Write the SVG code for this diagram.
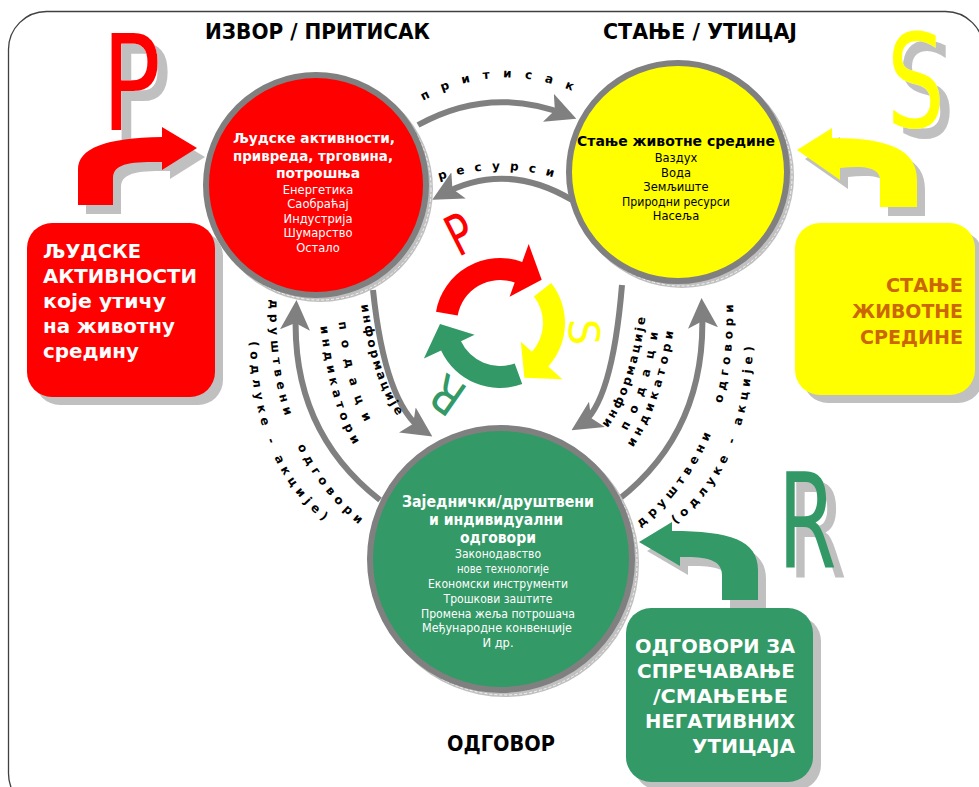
<svg xmlns="http://www.w3.org/2000/svg" width="979" height="787" viewBox="0 0 979 787">
<style>
text{font-family:'DejaVu Sans',Verdana,sans-serif}
.ttl{font-size:21px;font-weight:bold;fill:#000;text-anchor:middle}
.bx{font-size:20px;font-weight:bold}
.cb{font-size:13.5px;font-weight:bold;text-anchor:middle}
.cn{font-size:11.5px;text-anchor:middle}
.lbl{font-size:12px;font-weight:bold;fill:#000}
.conn{fill:none;stroke:#808080;stroke-width:6;marker-end:url(#ah)}
.sh{fill:#c0c0c0}
.dash{fill:none;stroke:#fff;stroke-width:0.8;stroke-dasharray:3 2}
.ring{stroke:#808080;stroke-width:6}
.red{fill:#ff0000}
.yel{fill:#ffff00}
.grn{fill:#339966}
.wt{fill:#fff}
.bigl{filter:url(#ds)}
</style>
<defs>
<filter id="ds" x="-30%" y="-20%" width="160%" height="140%">
<feOffset in="SourceAlpha" dx="10" dy="10" result="o"/>
<feFlood flood-color="#c0c0c0"/>
<feComposite in2="o" operator="in" result="s"/>
<feMerge><feMergeNode in="s"/><feMergeNode in="SourceGraphic"/></feMerge>
</filter>
<marker id="ah" viewBox="0 0 30 30" refX="20" refY="15" markerWidth="30" markerHeight="30" markerUnits="userSpaceOnUse" orient="auto"><path d="M0,0 L30,15 L0,30 L7,15 Z" fill="#808080"/></marker>
<path id="tpTop" d="M425,100 Q500,58 582,95"/>
<path id="tpRes" d="M440,180 Q500,160 562,180"/>
<path id="tpL1" d="M359,288 Q371,395 410,430"/>
<path id="tpL2" d="M336,298 Q346,413 385,450"/>
<path id="tpL3" d="M318,305 Q329,425 369,465"/>
<path id="tpL4" d="M270,300 Q266,450 362,527"/>
<path id="tpL5" d="M250,328 Q248,470 338,532"/>
<path id="tpR1" d="M596,440 Q636,405 648,298"/>
<path id="tpR2" d="M613,448 Q651,410 662,300"/>
<path id="tpR3" d="M615,468 Q663,425 678,300"/>
<path id="tpR4" d="M641,527 Q737,450 733,300"/>
<path id="tpR5" d="M665,532 Q755,470 753,328"/>
<path id="arrR" d="M78,205 L78,170 C78,148 105,138 162,137 L162,127 L197,148 L162,170 L162,162 C135,162 113,162 113,178 L113,205 Z"/>
<path id="arrY" d="M917,207 L917,180 C917,150 890,138 832,138 L832,128 L797,150 L840,180 L840,168 C860,166 880,166 880,180 L880,207 Z"/>
<path id="arrG" d="M758,600 L758,570 C758,540 730,531 672,531 L672,522 L639,542 L680,566 L680,557 C700,557 722,557 722,575 L722,600 Z"/>
</defs>
<rect width="979" height="787" fill="#fff"/>
<rect x="8.5" y="11.5" width="975" height="800" rx="38" fill="#fff" stroke="#404040" stroke-width="1.3"/>

<g id="titles">
<text class="ttl" x="317.5" y="39" textLength="225" lengthAdjust="spacingAndGlyphs">ИЗВОР / ПРИТИСАК</text>
<text class="ttl" x="700" y="39" textLength="194" lengthAdjust="spacingAndGlyphs">СТАЊЕ / УТИЦАЈ</text>
<text class="ttl" x="501" y="751" textLength="108" lengthAdjust="spacingAndGlyphs">ОДГОВОР</text>
</g>

<g id="connectors">
<path class="conn" d="M418,125 Q490,85 567,115"/>
<path class="conn" d="M572,200 Q505,160 441,195"/>
<path class="conn" d="M373,290 Q385,405 424,431"/>
<path class="conn" d="M380,500 Q290,430 296,310"/>
<path class="conn" d="M622,285 Q612,405 580,425"/>
<path class="conn" d="M618,500 Q708,430 702,308"/>
<text class="lbl" letter-spacing="13"><textPath href="#tpTop" startOffset="50%" text-anchor="middle">притисак</textPath></text>
<text class="lbl" letter-spacing="10"><textPath href="#tpRes" startOffset="50%" text-anchor="middle">ресурси</textPath></text>
<text class="lbl" letter-spacing="2.5"><textPath href="#tpL1" startOffset="50%" text-anchor="middle">информације</textPath></text>
<text class="lbl" letter-spacing="10.5"><textPath href="#tpL2" startOffset="50%" text-anchor="middle">подаци</textPath></text>
<text class="lbl" letter-spacing="4.5"><textPath href="#tpL3" startOffset="50%" text-anchor="middle">индикатори</textPath></text>
<text class="lbl" letter-spacing="5" xml:space="preserve"><textPath href="#tpL4" startOffset="50%" text-anchor="middle">друштвени   одговори</textPath></text>
<text class="lbl" letter-spacing="5"><textPath href="#tpL5" startOffset="50%" text-anchor="middle">(одлуке - акције)</textPath></text>
<text class="lbl" letter-spacing="2.5"><textPath href="#tpR1" startOffset="50%" text-anchor="middle">информације</textPath></text>
<text class="lbl" letter-spacing="10.5"><textPath href="#tpR2" startOffset="50%" text-anchor="middle">подаци</textPath></text>
<text class="lbl" letter-spacing="4.5"><textPath href="#tpR3" startOffset="50%" text-anchor="middle">индикатори</textPath></text>
<text class="lbl" letter-spacing="5" xml:space="preserve"><textPath href="#tpR4" startOffset="50%" text-anchor="middle">друштвени   одговори</textPath></text>
<text class="lbl" letter-spacing="5"><textPath href="#tpR5" startOffset="50%" text-anchor="middle">(одлуке - акције)</textPath></text>
</g>

<g id="node-pressure">
<circle class="sh" cx="320" cy="189" r="113"/>
<circle class="dash" cx="320" cy="189" r="111"/>
<circle class="red ring" cx="316" cy="185" r="110"/>
<g class="wt">
<text class="cb" x="314" y="143" textLength="162" lengthAdjust="spacingAndGlyphs">Људске активности,</text>
<text class="cb" x="313" y="161" textLength="160" lengthAdjust="spacingAndGlyphs">привреда, трговина,</text>
<text class="cb" x="318" y="178" textLength="84" lengthAdjust="spacingAndGlyphs">потрошња</text>
<text class="cn" x="318" y="194">Енергетика</text>
<text class="cn" x="318" y="208">Саобраћај</text>
<text class="cn" x="318" y="223">Индустрија</text>
<text class="cn" x="318" y="237">Шумарство</text>
<text class="cn" x="318" y="252">Остало</text>
</g>
</g>

<g id="node-state">
<circle class="sh" cx="682" cy="176" r="112"/>
<circle class="dash" cx="682" cy="176" r="110"/>
<circle class="yel ring" cx="678" cy="172" r="109"/>
<text class="cb" x="676" y="146" style="font-size:14.5px" textLength="198" lengthAdjust="spacingAndGlyphs">Стање животне средине</text>
<text class="cn" x="676" y="162">Ваздух</text>
<text class="cn" x="676" y="177">Вода</text>
<text class="cn" x="676" y="191">Земљиште</text>
<text class="cn" x="676" y="206" textLength="108" lengthAdjust="spacingAndGlyphs">Природни ресурси</text>
<text class="cn" x="676" y="220">Насеља</text>
</g>

<g id="node-response">
<circle class="sh" cx="505" cy="563" r="134"/>
<circle class="dash" cx="505" cy="563" r="132"/>
<circle class="grn ring" cx="501" cy="559" r="131"/>
<g class="wt">
<text class="cb" x="498" y="507" style="font-size:15px" textLength="192" lengthAdjust="spacingAndGlyphs">Заједнички/друштвени</text>
<text class="cb" x="496" y="525" style="font-size:15px" textLength="134" lengthAdjust="spacingAndGlyphs">и индивидуални</text>
<text class="cb" x="498" y="543" style="font-size:15px" textLength="76" lengthAdjust="spacingAndGlyphs">одговори</text>
<text class="cn" x="498" y="558" textLength="86" lengthAdjust="spacingAndGlyphs">Законодавство</text>
<text class="cn" x="503" y="573" textLength="92" lengthAdjust="spacingAndGlyphs">нове технологије</text>
<text class="cn" x="498" y="588" textLength="140" lengthAdjust="spacingAndGlyphs">Економски инструменти</text>
<text class="cn" x="498" y="603" textLength="109" lengthAdjust="spacingAndGlyphs">Трошкови заштите</text>
<text class="cn" x="498" y="618" textLength="154" lengthAdjust="spacingAndGlyphs">Промена жеља потрошача</text>
<text class="cn" x="497" y="632" textLength="150" lengthAdjust="spacingAndGlyphs">Међународне конвенције</text>
<text class="cn" x="498" y="647">И др.</text>
</g>
</g>

<g id="node-human-activities">
<g class="bigl"><text class="red" transform="translate(102,130) scale(0.735,1)" font-size="133">P</text></g>
<use href="#arrR" class="sh" transform="translate(8,9)"/>
<use href="#arrR" class="red"/>
<rect class="sh" x="35" y="231" width="188" height="174" rx="25"/>
<rect class="red" x="27" y="223" width="188" height="174" rx="25"/>
<g class="bx wt">
<text x="43" y="258" textLength="98" lengthAdjust="spacingAndGlyphs">ЉУДСКЕ</text>
<text x="43" y="283" textLength="154" lengthAdjust="spacingAndGlyphs">АКТИВНОСТИ</text>
<text x="43" y="308" textLength="123" lengthAdjust="spacingAndGlyphs">које утичу</text>
<text x="43" y="333" textLength="132" lengthAdjust="spacingAndGlyphs">на животну</text>
<text x="43" y="358" textLength="96" lengthAdjust="spacingAndGlyphs">средину</text>
</g>
</g>

<g id="node-state-box">
<g class="bigl"><text class="yel" transform="translate(887,127) scale(0.7,1)" font-size="130">S</text></g>
<use href="#arrY" class="sh" transform="translate(8,9)"/>
<use href="#arrY" class="yel"/>
<rect class="sh" x="803" y="231" width="180" height="172" rx="25"/>
<rect class="yel" x="795" y="223" width="180" height="172" rx="25"/>
<g class="bx" fill="#cc6600" text-anchor="end">
<text x="963" y="292" textLength="77" lengthAdjust="spacingAndGlyphs">СТАЊЕ</text>
<text x="963" y="318" textLength="111" lengthAdjust="spacingAndGlyphs">ЖИВОТНЕ</text>
<text x="963" y="344" textLength="103" lengthAdjust="spacingAndGlyphs">СРЕДИНЕ</text>
</g>
</g>

<g id="node-response-box">
<g class="bigl"><text class="grn" transform="translate(778,568) scale(0.64,1)" font-size="132">R</text></g>
<use href="#arrG" class="sh" transform="translate(8,9)"/>
<use href="#arrG" class="grn"/>
<rect class="sh" x="634" y="616" width="187" height="174" rx="25"/>
<rect class="grn" x="626" y="608" width="187" height="174" rx="25"/>
<g class="bx wt" text-anchor="end">
<text x="795" y="653" textLength="160" lengthAdjust="spacingAndGlyphs">ОДГОВОРИ ЗА</text>
<text x="795" y="678" textLength="158" lengthAdjust="spacingAndGlyphs">СПРЕЧАВАЊЕ</text>
<text x="788" y="703" textLength="135" lengthAdjust="spacingAndGlyphs">/СМАЊЕЊЕ</text>
<text x="795" y="728" textLength="150" lengthAdjust="spacingAndGlyphs">НЕГАТИВНИХ</text>
<text x="795" y="753" textLength="103" lengthAdjust="spacingAndGlyphs">УТИЦАЈА</text>
</g>
</g>

<g id="node-cycle">
<path class="red" d="M436.0,311.7 A65,65 0 0 1 522.2,261.9 L528.7,244.1 L541.7,279.8 L509.6,296.7 L514.7,282.6 A43,43 0 0 0 457.7,315.5 Z"/>
<path class="yel" d="M551.2,283.0 A65,65 0 0 1 548.3,366.5 L562.4,379.2 L524.4,377.8 L520.8,341.7 L532.0,351.8 A43,43 0 0 0 533.9,296.5 Z"/>
<path class="grn" d="M522.2,384.1 A65,65 0 0 1 441.1,350.5 L423.9,358.5 L440.0,324.0 L474.6,334.8 L461.0,341.2 A43,43 0 0 0 514.7,363.4 Z"/>
<text class="red" transform="translate(460,234) rotate(-27) scale(0.72,1)" font-size="56" text-anchor="middle" y="20">P</text>
<text class="yel" transform="translate(584,332) rotate(90)" font-size="42" text-anchor="middle" y="15">S</text>
<text class="grn" transform="translate(447,395) rotate(215) scale(0.85,1)" font-size="50" text-anchor="middle" y="18">R</text>
</g>
</svg>
